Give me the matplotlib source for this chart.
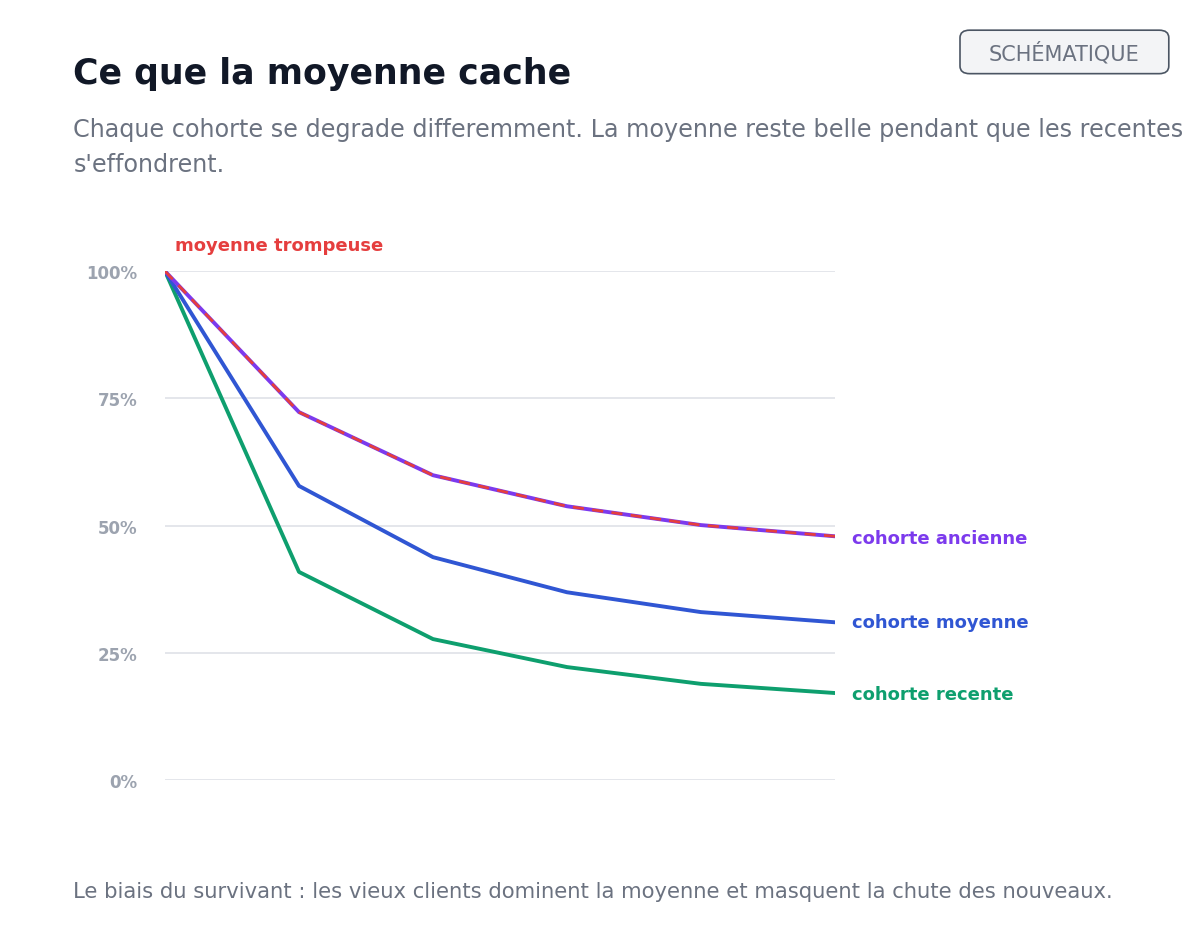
import matplotlib.pyplot as plt
from matplotlib.patches import FancyBboxPatch

plt.rcParams['font.family'] = ['DejaVu Sans']

periodes = [0, 1, 2, 3, 4, 5]
ancienne = [100, 72.3, 59.9, 53.8, 50.1, 47.9]
moyenne_cohorte = [100, 57.8, 43.8, 36.9, 33.0, 31.0]
recente = [100, 40.9, 27.7, 22.2, 18.9, 17.1]
moyenne_trompeuse = [100, 72.3, 59.9, 53.8, 50.1, 47.9]
yticks = [0, 25, 50, 75, 100]

violet = '#7c3aed'
bleu = '#3056d3'
vert = '#0e9f6e'
rouge = '#e53e3e'
gris = '#6b7280'

fig = plt.figure(figsize=(12, 9.45), dpi=100)
ax = fig.add_axes([0.1375, 0.1735, 0.5583, 0.5385])

ax.plot(periodes, recente, color=vert, lw=2.8)
ax.plot(periodes, moyenne_cohorte, color=bleu, lw=2.8)
ax.plot(periodes, ancienne, color=violet, lw=2.8)
ax.plot(periodes, moyenne_trompeuse, color=rouge, lw=2.0, ls=(0, (4, 3)))

ax.set_xlim(0, 5)
ax.set_ylim(0, 100)
ax.set_yticks(yticks)
ax.set_yticklabels([f'{v}%' for v in yticks], color='#9ca3af', fontsize=12, fontweight='bold')
ax.set_xticks([])
ax.tick_params(axis='y', length=0, pad=20)
ax.grid(axis='y', color='#e2e4e9', lw=1.3)
for s in ax.spines.values():
    s.set_visible(False)

ax.annotate('cohorte ancienne', (5, ancienne[-1]), xytext=(12, -1), textcoords='offset points',
            color=violet, fontsize=13, fontweight='bold', va='center')
ax.annotate('cohorte moyenne', (5, moyenne_cohorte[-1]), xytext=(12, 0), textcoords='offset points',
            color=bleu, fontsize=13, fontweight='bold', va='center')
ax.annotate('cohorte recente', (5, recente[-1]), xytext=(12, -1), textcoords='offset points',
            color=vert, fontsize=13, fontweight='bold', va='center')
ax.annotate('moyenne trompeuse', (0, 100), xytext=(7, 19), textcoords='offset points',
            color=rouge, fontsize=13, fontweight='bold', va='center')

fig.text(0.061, 0.922, 'Ce que la moyenne cache', fontsize=25, fontweight='bold', color='#111827', va='center')
fig.text(0.061, 0.862, "Chaque cohorte se degrade differemment. La moyenne reste belle pendant que les recentes",
         fontsize=17.2, color=gris, va='center')
fig.text(0.061, 0.825, "s'effondrent.", fontsize=17.2, color=gris, va='center')
fig.text(0.061, 0.056, "Le biais du survivant : les vieux clients dominent la moyenne et masquent la chute des nouveaux.",
         fontsize=15.2, color=gris, va='center')

box = FancyBboxPatch((0.8, 0.921), 0.174, 0.046, boxstyle='round,pad=0,rounding_size=0.008',
                     transform=fig.transFigure, fc='#f3f4f6', ec='#4b5563', lw=1.2)
fig.patches.append(box)
fig.text(0.887, 0.944, 'SCHÉMATIQUE', fontsize=15, color=gris, ha='center', va='center')

fig.savefig('out.png', dpi=100, facecolor='white')
